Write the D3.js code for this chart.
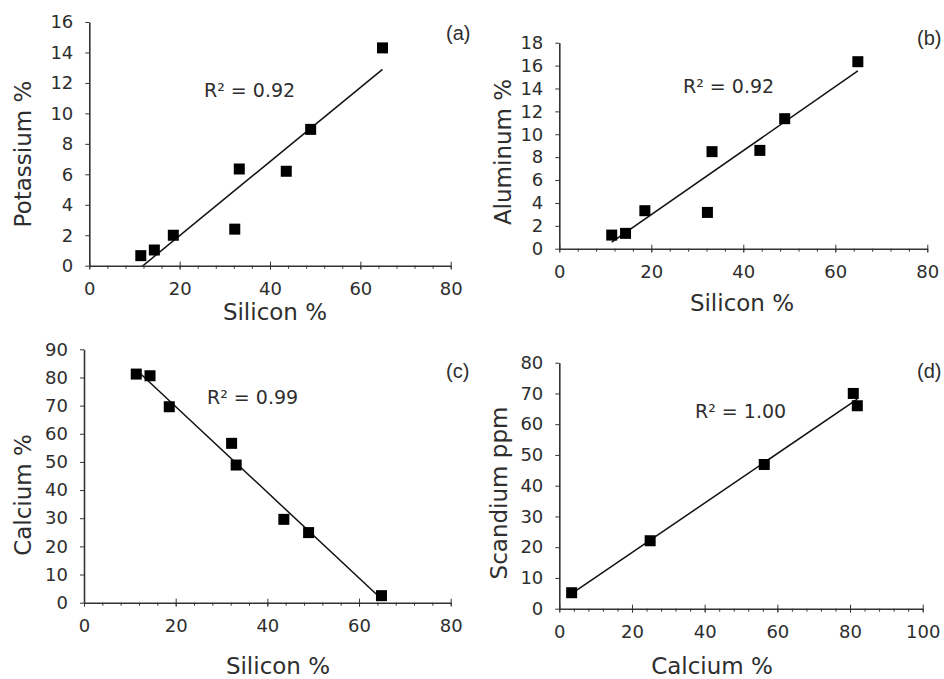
<!DOCTYPE html>
<html lang="en">
<head>
    <meta charset="UTF-8">
    <title>Element correlations</title>
    <script src="https://d3js.org/d3.v7.min.js"></script>
    <style>
        body { margin: 0; background: #fff; }
        svg text { font-family: "DejaVu Sans", Verdana, sans-serif; fill: #2e2e2e; }
        .domain, .tick line { stroke: #333; }
    </style>
</head>
<body>
<svg width="944" height="679"></svg>
<script>
    // ---- data ----
    const silicon   = [11.4, 14.4, 18.6, 32.2, 33.2, 43.6, 49.0, 64.9];
    const potassium = [0.66, 1.03, 2.0, 2.4, 6.35, 6.2, 8.95, 14.3];
    const aluminum  = [1.19, 1.34, 3.32, 3.17, 8.48, 8.59, 11.36, 16.34];
    const calcium   = [81.2, 80.6, 69.6, 56.6, 48.9, 29.6, 24.9, 2.5];
    const calciumSc = [3.4, 25.0, 56.4, 80.9, 82.0];
    const scandium  = [5.2, 22.1, 46.9, 70.0, 66.0];
    const rSquared  = ["R² = 0.92", "R² = 0.92", "R² = 0.99", "R² = 1.00"];
    const panelTags = ["(a)", "(b)", "(c)", "(d)"];

    const svg = d3.select('svg');

    // panel boxes (plot area) and text spots
    const panels = [
        {x: silicon, y: potassium, xMax: 80, yMax: 16, yStep: 2, xTitle: "Silicon %", yTitle: "Potassium %",
         left: 89.3, right: 450.7, top: 22, bottom: 265.7,
         xt: [275, 320], yt: [23, 154], r2: [204, 97], tag: [446, 40]},
        {x: silicon, y: aluminum, xMax: 80, yMax: 18, yStep: 2, xTitle: "Silicon %", yTitle: "Aluminum %",
         left: 559.3, right: 927.3, top: 42.7, bottom: 248.7,
         xt: [742, 311], yt: [503, 152], r2: [683, 93], tag: [917, 45]},
        {x: silicon, y: calcium, xMax: 80, yMax: 90, yStep: 10, xTitle: "Silicon %", yTitle: "Calcium %",
         left: 84, right: 450.7, top: 349.3, bottom: 602.7,
         xt: [278, 674], yt: [23, 495], r2: [207, 404], tag: [446, 378]},
        {x: calciumSc, y: scandium, xMax: 100, yMax: 80, yStep: 10, xTitle: "Calcium %", yTitle: "Scandium ppm",
         left: 559.3, right: 922.7, top: 362.7, bottom: 608.7,
         xt: [712, 674], yt: [499, 493], r2: [695, 418], tag: [917, 378]}
    ];

    function fit(xs, ys) {
        const mx = d3.mean(xs), my = d3.mean(ys);
        const sxy = d3.sum(xs, (v, i) => (v - mx) * (ys[i] - my));
        const sxx = d3.sum(xs, v => (v - mx) * (v - mx));
        const b = sxy / sxx;
        return {b: b, a: my - b * mx};
    }

    panels.forEach(function (p, k) {
        const x = d3.scaleLinear().domain([0, p.xMax]).range([p.left, p.right]);
        const y = d3.scaleLinear().domain([0, p.yMax]).range([p.bottom, p.top]);
        const g = svg.append('g');

        // clip for trend line
        g.append('clipPath').attr('id', 'clip' + k)
            .append('rect').attr('x', p.left).attr('y', p.top)
            .attr('width', p.right - p.left).attr('height', p.bottom - p.top);

        // y axis
        const yAxis = g.append('g').attr('transform', `translate(${p.left},0)`)
            .call(d3.axisLeft(y).tickValues(d3.range(0, p.yMax + 0.001, p.yStep))
                .tickSize(4).tickPadding(12).tickSizeOuter(0));
        yAxis.selectAll('text').attr('font-size', 18);

        // minor x ticks (every 4)
        g.append('g').attr('transform', `translate(0,${p.bottom})`)
            .call(d3.axisBottom(x).tickValues(d3.range(0, p.xMax + 0.001, 4))
                .tickSize(3).tickFormat('').tickSizeOuter(0))
            .select('.domain').remove();

        // major x ticks cross the axis
        const xAxis = g.append('g').attr('transform', `translate(0,${p.bottom})`)
            .call(d3.axisBottom(x).tickValues(d3.range(0, p.xMax + 0.001, 20))
                .tickSize(4).tickPadding(13).tickSizeOuter(0));
        xAxis.selectAll('.tick line').attr('y1', -4);
        xAxis.selectAll('text').attr('font-size', 18);
        g.selectAll('.domain').attr('stroke-width', 1.6);

        // trend line
        const f = fit(p.x, p.y);
        const ext = d3.extent(p.x);
        const line = d3.line().x(d => x(d)).y(d => y(f.a + f.b * d));
        g.append('path').datum(ext)
            .attr('d', line)
            .attr('clip-path', `url(#clip${k})`)
            .attr('stroke', '#111').attr('stroke-width', 1.5).attr('fill', 'none');

        // markers
        const s = 11;
        g.selectAll('rect.pt').data(p.x).enter().append('rect')
            .attr('class', 'pt')
            .attr('x', d => x(d) - s / 2)
            .attr('y', (d, i) => y(p.y[i]) - s / 2)
            .attr('width', s).attr('height', s)
            .attr('fill', '#000');

        // titles and labels
        g.append('text').attr('x', p.xt[0]).attr('y', p.xt[1])
            .attr('text-anchor', 'middle').attr('font-size', 23).text(p.xTitle);
        g.append('text')
            .attr('transform', `translate(${p.yt[0]},${p.yt[1]}) rotate(-90)`)
            .attr('text-anchor', 'middle').attr('dominant-baseline', 'central')
            .attr('font-size', 23).text(p.yTitle);
        g.append('text').attr('x', p.r2[0]).attr('y', p.r2[1])
            .attr('font-size', 19).text(rSquared[k]);
        g.append('text').attr('x', p.tag[0]).attr('y', p.tag[1])
            .attr('font-size', 20).style('font-family', 'Liberation Sans, Arial, sans-serif')
            .text(panelTags[k]);
    });
</script>
</body>
</html>
